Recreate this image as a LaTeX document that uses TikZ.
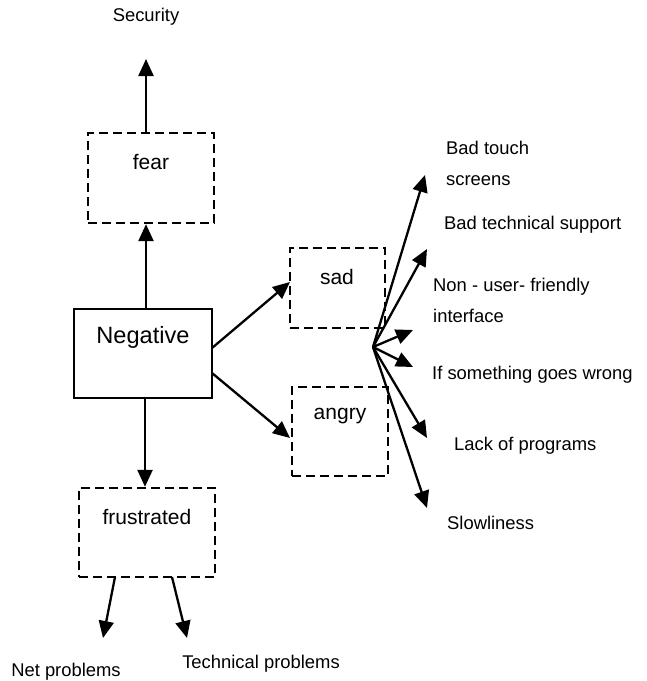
\documentclass[tikz,border=0pt]{standalone}
\usepackage{fontspec}
\setmainfont{Liberation Sans}
\usetikzlibrary{arrows.meta}
\begin{document}
\begin{tikzpicture}[x=1pt,y=-1pt,
  arr/.style={line width=2.3pt,-{Triangle[length=17pt,width=15pt]}},
  dbox/.style={draw,line width=2.3pt,dash pattern=on 9pt off 5pt,inner sep=0pt},
  sbox/.style={draw,line width=1.5pt,inner sep=0pt},
  lab/.style={font=\fontsize{18.4}{31}\selectfont,align=left,inner sep=0pt},
  blab/.style={font=\fontsize{21}{25}\selectfont,inner sep=0pt},
  nlab/.style={font=\fontsize{23.6}{28}\selectfont,inner sep=0pt}]
\useasboundingbox (0,0) rectangle (647,681);

% boxes
\node[dbox,minimum width=126pt,minimum height=90pt] (fear) at (151,178) {};
\node[sbox,minimum width=138pt,minimum height=89pt] (neg) at (143,353.5) {};
\node[dbox,minimum width=95pt,minimum height=80pt] (sad) at (337.5,288) {};
\node[dbox,minimum width=96pt,minimum height=89pt] (angry) at (340,431.5) {};
\node[dbox,minimum width=136pt,minimum height=89pt] (frus) at (147,532.5) {};

% box texts
\node[blab] (tfear) at (151,162) {fear};
\node[nlab] (tneg) at (143,337) {Negative};
\node[blab] (tsad) at (337,277) {sad};
\node[blab] (tangry) at (340,416) {angry};
\node[blab] (tfrus) at (147,517) {frustrated};

% outer labels
\node[lab] (security) at (146,17) {Security};
\node[lab,anchor=west] (touch) at (446,163) {Bad touch\\screens};
\node[lab,anchor=west] (support) at (444,225) {Bad technical support};
\node[lab,anchor=west] (nonuser) at (433,300.5) {Non - user- friendly\\interface};
\node[lab,anchor=west] (wrong) at (432,375) {If something goes wrong};
\node[lab,anchor=west] (lack) at (454,446) {Lack of programs};
\node[lab,anchor=west] (slow) at (447,523) {Slowliness};
\node[lab] (net) at (66,672) {Net problems};
\node[lab] (tech) at (261,664) {Technical problems};

% coordinates
\coordinate (sectip) at (146,59);
\coordinate (hub) at (373,347);
\coordinate (t1) at (425,175);
\coordinate (t2) at (427,249);
\coordinate (t3) at (413,330);
\coordinate (t4) at (413,367);
\coordinate (t5) at (427,438);
\coordinate (t6) at (427,508);
\coordinate (f1) at (115,577);
\coordinate (f2) at (172,577);
\coordinate (n1) at (103,638);
\coordinate (n2) at (187,638);

% arrows
\draw[arr] (fear.north -| sectip) -- (sectip);
\draw[arr] (neg.north -| sectip) -- (fear.south -| sectip);
\draw[arr] (212,348) -- (290,282);
\draw[arr] (212,373) -- (290,438);
\draw[arr] (neg.south -| 145,0) -- (frus.north -| 145,0);
\foreach \t in {t1,t2,t3,t4,t5,t6} \draw[arr] (hub) -- (\t);
\draw[arr] (f1) -- (n1);
\draw[arr] (f2) -- (n2);
\end{tikzpicture}
\end{document}
